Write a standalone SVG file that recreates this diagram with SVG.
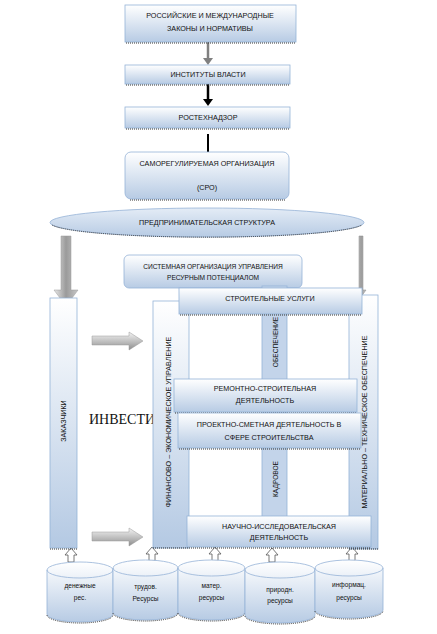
<svg xmlns="http://www.w3.org/2000/svg" width="437" height="634" viewBox="0 0 437 634">
<defs>
<linearGradient id="gBox" x1="0" y1="0" x2="0" y2="1"><stop offset="0" stop-color="#ffffff"/><stop offset="1" stop-color="#b7cbe4"/></linearGradient>
<linearGradient id="gCol" x1="0" y1="0" x2="0" y2="1"><stop offset="0" stop-color="#ffffff"/><stop offset="1" stop-color="#b4c9e3"/></linearGradient>
<linearGradient id="gEll" x1="0" y1="0" x2="0" y2="1"><stop offset="0" stop-color="#e4ecf6"/><stop offset="1" stop-color="#b7cbe4"/></linearGradient>
<linearGradient id="gCyl" x1="0" y1="0" x2="0" y2="1"><stop offset="0" stop-color="#ffffff"/><stop offset="1" stop-color="#b7cbe4"/></linearGradient>
<linearGradient id="gArrH" x1="0" y1="0" x2="1" y2="0"><stop offset="0" stop-color="#e8e8e8"/><stop offset="0.5" stop-color="#9a9a9a"/><stop offset="1" stop-color="#c8c8c8"/></linearGradient>
<linearGradient id="gArrV" x1="0" y1="0" x2="0" y2="1"><stop offset="0" stop-color="#f4f4f4"/><stop offset="0.6" stop-color="#b8b8b8"/><stop offset="1" stop-color="#8c8c8c"/></linearGradient>
</defs>
<style>
.box{fill:url(#gBox);stroke:#95b3d7;stroke-width:0.8}
.col{fill:url(#gCol);stroke:#95b3d7;stroke-width:0.8}
.colS{fill:#c3d4ea;stroke:#95b3d7;stroke-width:0.8}
.sh{stroke:#333;stroke-width:1;stroke-dasharray:1 1;fill:none}
.t{font-family:"Liberation Sans",Arial,sans-serif;font-size:7.2px;fill:#111;text-anchor:middle}
.ts{font-family:"Liberation Sans",Arial,sans-serif;font-size:6.6px;fill:#111;text-anchor:middle}
.cyl{fill:url(#gCyl);stroke:#95b3d7;stroke-width:0.8}
.up{fill:#ffffff;stroke:#555;stroke-width:0.8}
</style>

<g id="connectors">
<line x1="208" y1="42" x2="208" y2="59" stroke="#808080" stroke-width="2.5"/>
<polygon points="203,58 213,58 208,65" fill="#808080"/>
<line x1="208" y1="84" x2="208" y2="100" stroke="#000" stroke-width="2.5"/>
<polygon points="203,99 213,99 208,106" fill="#000"/>
<line x1="208" y1="134" x2="208" y2="152" stroke="#000" stroke-width="2"/>
<path d="M61,236 L71,236 L71,290 L78,290 L66,306 L54,290 L61,290 Z" fill="url(#gArrH)" stroke="#999" stroke-width="0.5"/>
<path d="M359,236 L363,236 L363,290 L366,290 L361,297 L356,290 L359,290 Z" fill="url(#gArrH)" stroke="#888" stroke-width="0.5"/>
<path d="M92,336 L129,336 L129,332 L143,341 L129,350 L129,345 L92,345 Z" fill="url(#gArrV)" stroke="#999" stroke-width="0.5"/>
<path d="M92,532 L129,532 L129,528 L143,537 L129,546 L129,541 L92,541 Z" fill="url(#gArrV)" stroke="#999" stroke-width="0.5"/>
<path d="M68,562 L68,555 L65,555 L71,548 L77,555 L74,555 L74,562 Z" class="up"/>
<path d="M149,561 L149,554 L146,554 L152,547 L158,554 L155,554 L155,561 Z" class="up"/>
<path d="M212,561 L212,554 L209,554 L215,547 L221,554 L218,554 L218,561 Z" class="up"/>
<path d="M269,562 L269,555 L266,555 L272,548 L278,555 L275,555 L275,562 Z" class="up"/>
<path d="M349,561 L349,554 L346,554 L352,547 L358,554 L355,554 L355,561 Z" class="up"/>
</g>

<g id="n-laws">
<rect x="125" y="5" width="171" height="37" class="box"/>
<line x1="126" y1="43" x2="296" y2="43" class="sh"/>
<text x="210" y="18" class="t">РОССИЙСКИЕ И МЕЖДУНАРОДНЫЕ</text>
<text x="210" y="31" class="t">ЗАКОНЫ И НОРМАТИВЫ</text>
</g>
<g id="n-inst">
<rect x="125" y="65" width="165" height="19" class="box"/>
<line x1="126" y1="85" x2="290" y2="85" class="sh"/>
<text x="208" y="77" class="t">ИНСТИТУТЫ ВЛАСТИ</text>
</g>
<g id="n-rtn">
<rect x="125" y="107" width="165" height="21" class="box"/>
<line x1="126" y1="129" x2="290" y2="129" class="sh"/>
<text x="208" y="120" class="t">РОСТЕХНАДЗОР</text>
</g>
<g id="n-sro">
<rect x="125" y="152" width="164" height="47" rx="6" class="box"/>
<line x1="130" y1="200" x2="285" y2="200" class="sh"/>
<text x="207" y="166" class="t">САМОРЕГУЛИРУЕМАЯ ОРГАНИЗАЦИЯ</text>
<text x="207" y="190" class="t">(СРО)</text>
</g>
<g id="n-pred">
<ellipse cx="207" cy="222.5" rx="157" ry="14.5" fill="url(#gEll)" stroke="#95b3d7" stroke-width="0.8"/>
<path d="M52,225 A157,14.5 0 0 0 362,225" class="sh"/>
<text x="207" y="225" class="t">ПРЕДПРИНИМАТЕЛЬСКАЯ СТРУКТУРА</text>
</g>
<g id="n-sys">
<rect x="124" y="255" width="178" height="33" rx="5" class="box"/>
<text x="213" y="268.5" class="ts">СИСТЕМНАЯ ОРГАНИЗАЦИЯ УПРАВЛЕНИЯ</text>
<text x="213" y="279.5" class="ts">РЕСУРНЫМ ПОТЕНЦИАЛОМ</text>
</g>
<g id="n-zak">
<rect x="50" y="298" width="27" height="250" class="col"/>
<line x1="50" y1="549" x2="77" y2="549" class="sh"/>
<text transform="translate(66,421) rotate(-90)" class="t">ЗАКАЗЧИКИ</text>
</g>
<g id="n-inv">
<text x="89" y="424" font-family="Liberation Serif,'Times New Roman',serif" font-size="14" fill="#111">ИНВЕСТИ</text>
</g>
<g id="n-fin">
<rect x="153" y="301" width="36" height="247" class="col"/>
<text transform="translate(170.5,422) rotate(-90)" class="t">ФИНАНСОВО – ЭКОНОМИЧЕСКОЕ УПРАВЛЕНИЕ</text>
</g>
<g id="n-kadr">
<rect x="262" y="286" width="25" height="250" class="colS"/>
<text transform="translate(277.5,342) rotate(-90)" class="ts">ОБЕСПЕЧЕНИЕ</text>
<text transform="translate(277.5,479) rotate(-90)" class="ts">КАДРОВОЕ</text>
</g>
<g id="n-mat">
<rect x="349" y="295" width="29" height="254" class="col"/>
<line x1="349" y1="549" x2="378" y2="549" class="sh"/>
<text transform="translate(367,422) rotate(-90)" class="t">МАТЕРИАЛЬНО – ТЕХНИЧЕСКОЕ ОБЕСПЕЧЕНИЕ</text>
</g>
<g id="n-stroy">
<rect x="179" y="288" width="183" height="26" class="box"/>
<line x1="180" y1="315" x2="362" y2="315" class="sh"/>
<text x="270" y="301" class="t">СТРОИТЕЛЬНЫЕ УСЛУГИ</text>
</g>
<g id="n-rem">
<rect x="174" y="379" width="183" height="33" class="box"/>
<line x1="175" y1="413" x2="357" y2="413" class="sh"/>
<text x="265" y="390.5" class="t">РЕМОНТНО-СТРОИТЕЛЬНАЯ</text>
<text x="265" y="402.5" class="t">ДЕЯТЕЛЬНОСТЬ</text>
</g>
<g id="n-proj">
<rect x="178" y="413" width="183" height="35" class="box"/>
<line x1="179" y1="449" x2="361" y2="449" class="sh"/>
<text x="269" y="426.5" class="t">ПРОЕКТНО-СМЕТНАЯ  ДЕЯТЕЛЬНОСТЬ В</text>
<text x="269" y="439.5" class="t">СФЕРЕ СТРОИТЕЛЬСТВА</text>
</g>
<g id="n-nauch">
<rect x="187" y="516" width="184" height="31" class="box"/>
<line x1="153" y1="548" x2="371" y2="548" class="sh"/>
<text x="279" y="528.5" class="t">НАУЧНО-ИССЛЕДОВАТЕЛЬСКАЯ</text>
<text x="279" y="539.5" class="t">ДЕЯТЕЛЬНОСТЬ</text>
</g>

<g id="n-cyl1">
<path d="M47,570 A33,8 0 0 1 113,570 L113,614 A33,8 0 0 1 47,614 Z" class="cyl"/>
<path d="M47,570 A33,8 0 0 0 113,570" fill="none" stroke="#95b3d7" stroke-width="0.8"/>
<path d="M47,615 A33,8 0 0 0 113,615" class="sh"/>
<text x="80" y="588" class="ts">денежные</text>
<text x="80" y="600" class="ts">рес.</text>
</g>
<g id="n-cyl2">
<path d="M113,568 A32.5,8 0 0 1 178,568 L178,612 A32.5,8 0 0 1 113,612 Z" class="cyl"/>
<path d="M113,568 A32.5,8 0 0 0 178,568" fill="none" stroke="#95b3d7" stroke-width="0.8"/>
<path d="M113,613 A32.5,8 0 0 0 178,613" class="sh"/>
<text x="145.5" y="589" class="ts">трудов.</text>
<text x="145.5" y="601" class="ts">Ресурсы</text>
</g>
<g id="n-cyl3">
<path d="M178,568 A33.5,8 0 0 1 245,568 L245,612 A33.5,8 0 0 1 178,612 Z" class="cyl"/>
<path d="M178,568 A33.5,8 0 0 0 245,568" fill="none" stroke="#95b3d7" stroke-width="0.8"/>
<path d="M178,613 A33.5,8 0 0 0 245,613" class="sh"/>
<text x="211.5" y="588" class="ts">матер.</text>
<text x="211.5" y="600" class="ts">ресурсы</text>
</g>
<g id="n-cyl4">
<path d="M245,570 A35,8 0 0 1 315,570 L315,615 A35,8 0 0 1 245,615 Z" class="cyl"/>
<path d="M245,570 A35,8 0 0 0 315,570" fill="none" stroke="#95b3d7" stroke-width="0.8"/>
<path d="M245,616 A35,8 0 0 0 315,616" class="sh"/>
<text x="280" y="592" class="ts">природн.</text>
<text x="280" y="603" class="ts">ресурсы</text>
</g>
<g id="n-cyl5">
<path d="M315,568 A34,8 0 0 1 383,568 L383,610 A34,8 0 0 1 315,610 Z" class="cyl"/>
<path d="M315,568 A34,8 0 0 0 383,568" fill="none" stroke="#95b3d7" stroke-width="0.8"/>
<path d="M315,611 A34,8 0 0 0 383,611" class="sh"/>
<text x="349" y="587" class="ts">информац.</text>
<text x="349" y="600" class="ts">ресурсы</text>
</g>
</svg>
